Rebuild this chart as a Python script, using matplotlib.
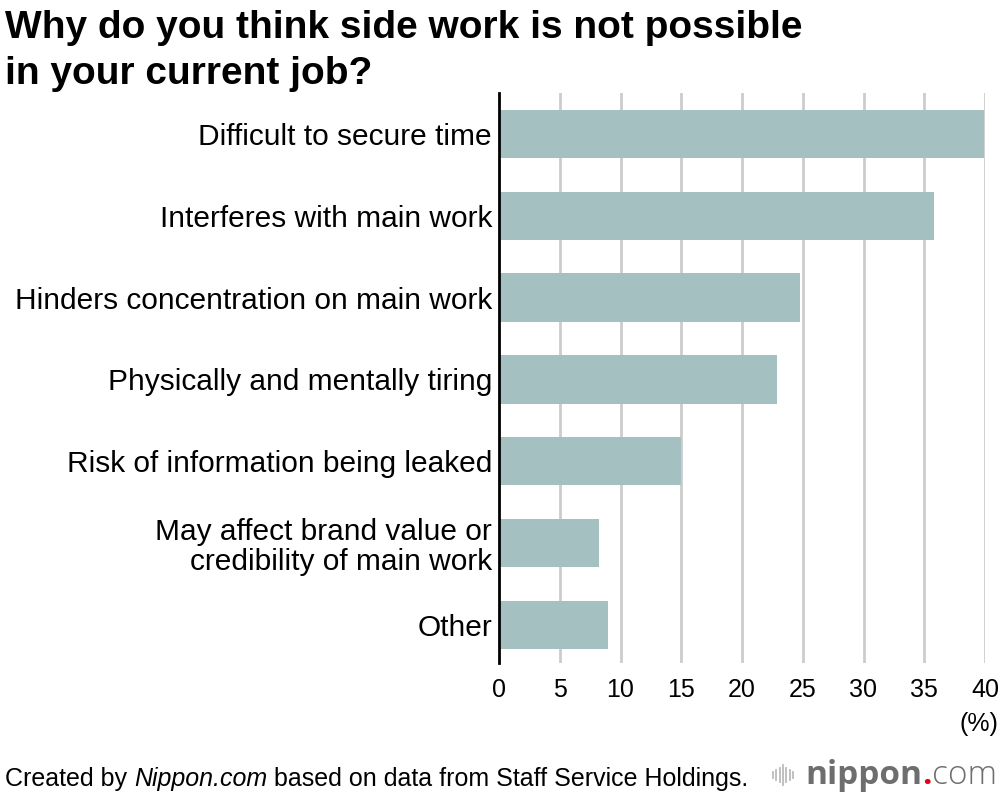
import matplotlib
matplotlib.use("Agg")
import matplotlib.pyplot as plt
from matplotlib.lines import Line2D

plt.rcParams['font.family'] = ['Liberation Sans', 'DejaVu Sans']

# data
categories = [
    "Difficult to secure time",
    "Interferes with main work",
    "Hinders concentration on main work",
    "Physically and mentally tiring",
    "Risk of information being leaked",
    "May affect brand value or\ncredibility of main work",
    "Other",
]
values = [39.9, 35.8, 24.8, 22.9, 15.0, 8.2, 9.0]
xticks = [0, 5, 10, 15, 20, 25, 30, 35, 40]

bar_color = "#a4c0c0"
grid_color = "#cccccc"

fig = plt.figure(figsize=(10, 7.96), dpi=100)
ax = fig.add_axes([0.499, 1 - 663 / 796, 0.486, (663 - 93) / 796])

ypos = list(range(len(categories)))
ax.barh(ypos, values, height=0.59, color=bar_color, zorder=2)
ax.set_ylim(len(categories) - 0.535, -0.5)
ax.set_xlim(0, 40)
ax.set_xticks(xticks)
ax.set_xticklabels([str(t) for t in xticks], fontsize=18)
ax.set_yticks(ypos)
ax.set_yticklabels(categories, fontsize=21.5, linespacing=1.08)
ax.tick_params(axis='y', length=0, pad=5)
ax.tick_params(axis='x', length=0, pad=11)

for t in xticks[1:]:
    ax.axvline(t, color=grid_color, lw=2, zorder=1)

for s in ['top', 'right', 'bottom']:
    ax.spines[s].set_visible(False)
ax.spines['left'].set_linewidth(2)
ax.spines['left'].set_color('black')
ax.spines['left'].set_zorder(3)

fig.text(0.998, 1 - 724 / 796, "(%)", ha='right', va='center', fontsize=18)

# title
fig.text(0.005, 1 - 10 / 796, "Why do you think side work is not possible\nin your current job?",
         ha='left', va='top', fontsize=28, fontweight='bold', linespacing=1.36)

# footer
fy = 1 - 779 / 796
fig.canvas.draw()
r = fig.canvas.get_renderer()
t1 = fig.text(0.005, fy, "Created by ", ha='left', va='center', fontsize=18)
x1 = t1.get_window_extent(r).x1 / fig.bbox.width
t2 = fig.text(x1, fy, "Nippon.com", ha='left', va='center', fontsize=18, style='italic')
x2 = t2.get_window_extent(r).x1 / fig.bbox.width
fig.text(x2, fy, " based on data from Staff Service Holdings.", ha='left', va='center', fontsize=18)

# logo
logo_y = 1 - 775 / 796
heights = [6, 10, 14, 20, 14, 10, 6]
for i, h in enumerate(heights):
    x = (773 + i * 3.3) / 1000
    fig.add_artist(Line2D([x, x], [logo_y - h / 2 / 796, logo_y + h / 2 / 796],
                          color="#bbbbbb", lw=1.3))
l1 = fig.text(0.805, logo_y, "nippon", ha='left', va='center', fontsize=24,
              fontweight='bold', color="#6e6e6e", family=['Open Sans', 'DejaVu Sans'])
x3 = l1.get_window_extent(r).x1 / fig.bbox.width
l2 = fig.text(x3, logo_y, ".", ha='left', va='center', fontsize=24,
              fontweight='bold', color="#e60012", family=['Open Sans', 'DejaVu Sans'])
x4 = l2.get_window_extent(r).x1 / fig.bbox.width
fig.text(x4, logo_y, "com", ha='left', va='center', fontsize=24,
         fontweight='light', color="#6e6e6e", family=['Open Sans', 'DejaVu Sans'])

fig.savefig("out.png", dpi=100)
